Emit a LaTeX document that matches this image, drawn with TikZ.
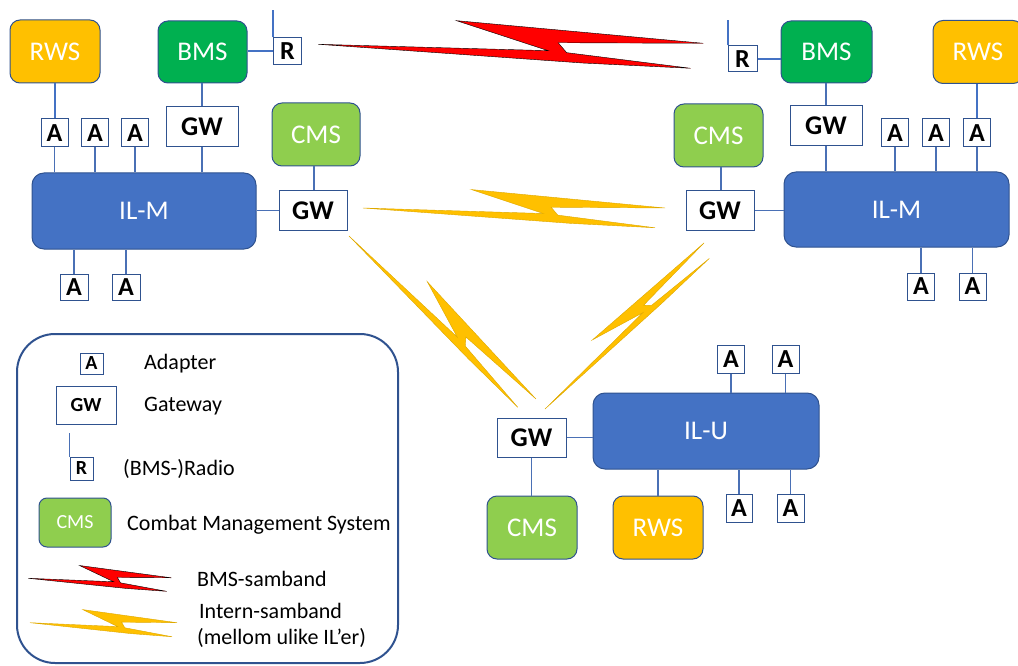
\documentclass[tikz,border=0pt]{standalone}
\usepackage{fontspec}
\setmainfont{Carlito}
\definecolor{bdr}{HTML}{2F528F}
\definecolor{lc}{HTML}{4A70B5}
\definecolor{rwsc}{HTML}{FFC000}
\definecolor{bmsc}{HTML}{00B050}
\definecolor{cmsc}{HTML}{8FCE4E}
\definecolor{ilc}{HTML}{4472C4}
\definecolor{boltred}{HTML}{FF0000}
\definecolor{boltor}{HTML}{FFC000}
\definecolor{boltoredge}{HTML}{DDA800}
\tikzset{
  sysbox/.style={draw=bdr, line width=1pt, rounded corners=10pt, text=white, inner sep=0pt,
    font=\fontsize{27}{27}\selectfont},
  rwsbox/.style={sysbox, fill=rwsc, minimum width=90pt, minimum height=63pt},
  bmsbox/.style={sysbox, fill=bmsc, minimum width=89pt, minimum height=62pt},
  cmsbox/.style={sysbox, fill=cmsc, minimum width=89pt, minimum height=63pt},
  ilbox/.style={sysbox, fill=ilc, rounded corners=12pt},
  wbox/.style={draw=bdr, line width=1pt, fill=white, text=black, inner sep=0pt,
    font=\fontsize{26}{26}\selectfont\bfseries},
  abox/.style={wbox, minimum width=27pt, minimum height=28pt},
  rbox/.style={wbox, minimum width=28pt, minimum height=27pt},
  gwbox/.style={wbox, minimum width=72pt, minimum height=40pt, font=\fontsize{27}{27}\selectfont\bfseries},
  conn/.style={draw=lc, line width=1.4pt},
  connb/.style={draw=ilc, line width=2pt},
  legtext/.style={anchor=base west, inner sep=0pt, font=\fontsize{22}{22}\selectfont},
  redbolt/.style={fill=boltred},
  orbolt/.style={fill=boltor, draw=boltoredge, line width=0.4pt},
}
\newcommand{\drawbolt}[5]{%
  \filldraw[#5, shift={(#1)}, rotate=#2, xscale=#3, yscale=-#4]
    (0,0) -- (0.597,-0.29) -- (0.359,0.97) -- (1,0) -- (0.623,0.04)
    -- (0.645,-0.375) -- (0.967,-1.04) -- (0.688,-0.81) -- cycle;}
\begin{document}
\begin{tikzpicture}[x=1pt, y=-1pt]
\useasboundingbox (0,0) rectangle (1018,666);

% ---------- lightning bolts ----------
\drawbolt{318.3,44.3}{0.15}{385}{24}{redbolt}
\drawbolt{363,208}{0}{302}{19}{orbolt}
\drawbolt{349,236}{-41.08}{248}{17.5}{orbolt}
\drawbolt{545,409}{46.24}{230}{14}{orbolt}

% ---------- top-left vehicle ----------
\node[rwsbox] (rws1) at (55,51.5) {RWS};
\node[bmsbox] (bms1) at (202.5,52) {BMS};
\node[rbox] (r1) at (287.5,51.5) {R};
\node[abox] (a1a) at (54.5,133) {A};
\node[abox] (a1b) at (95,133) {A};
\node[abox] (a1c) at (135,133) {A};
\node[gwbox] (gw1a) at (202,127) {GW};
\node[cmsbox, minimum width=88pt] (cms1) at (316,134.5) {CMS};
\node[gwbox, minimum width=68pt, minimum height=39pt] (gw1b) at (313,210.5) {GW};
\node[ilbox, minimum width=224pt, minimum height=76pt] (ilm1) at (144,211) {IL-M};
\node[abox, minimum height=26pt, minimum width=28pt] (a1d) at (74,287) {A};
\node[abox, minimum height=26pt, minimum width=28pt] (a1e) at (126,287) {A};
\coordinate (ant1) at (273.5,10);

\draw[connb] (a1a.north) -- (a1a.north |- rws1.south);
\draw[conn] (a1a.south) -- (a1a.south |- ilm1.north);
\draw[conn] (a1b.south) -- (a1b.south |- ilm1.north);
\draw[conn] (a1c.south) -- (a1c.south |- ilm1.north);
\draw[conn] (gw1a.north) -- (gw1a.north |- bms1.south);
\draw[conn] (gw1a.south) -- (gw1a.south |- ilm1.north);
\draw[connb] (r1.west) -- (r1.west -| bms1.east);
\draw[connb] (r1.north west) -- (r1.north west |- ant1);
\draw[conn] ([xshift=1pt]gw1b.north) -- ([xshift=1pt]gw1b.north |- cms1.south);
\draw[conn] (gw1b.west) -- (gw1b.west -| ilm1.east);
\draw[conn] (a1d.north) -- (a1d.north |- ilm1.south);
\draw[conn] (a1e.north) -- (a1e.north |- ilm1.south);

% ---------- top-right vehicle ----------
\node[rbox, minimum width=29pt, minimum height=26pt] (r2) at (742.5,59) {R};
\node[bmsbox, minimum width=91pt] (bms2) at (826.5,52) {BMS};
\node[rwsbox] (rws2) at (978,52) {RWS};
\node[cmsbox] (cms2) at (718.5,135.5) {CMS};
\node[gwbox, minimum width=68pt, minimum height=39pt] (gw2b) at (720,210.5) {GW};
\node[gwbox] (gw2a) at (826,126) {GW};
\node[abox] (a2a) at (895,133) {A};
\node[abox] (a2b) at (936,133) {A};
\node[abox] (a2c) at (977,133) {A};
\node[ilbox, minimum width=225pt, minimum height=75pt] (ilm2) at (896.5,209.5) {IL-M};
\node[abox, minimum height=27pt] (a2d) at (921,286.5) {A};
\node[abox, minimum height=27pt] (a2e) at (972.5,286.5) {A};
\coordinate (ant2) at (728,20);

\draw[connb] (r2.east) -- (r2.east -| bms2.west);
\draw[connb] (r2.north west) -- (r2.north west |- ant2);
\draw[conn] (gw2a.north) -- (gw2a.north |- bms2.south);
\draw[conn] (gw2a.south) -- (gw2a.south |- ilm2.north);
\draw[conn] ([xshift=1pt]gw2b.north) -- ([xshift=1pt]gw2b.north |- cms2.south);
\draw[conn] (gw2b.east) -- (gw2b.east -| ilm2.west);
\draw[connb] (a2c.north) -- (a2c.north |- rws2.south);
\draw[conn] (a2a.south) -- (a2a.south |- ilm2.north);
\draw[conn] (a2b.south) -- (a2b.south |- ilm2.north);
\draw[conn] (a2c.south) -- (a2c.south |- ilm2.north);
\draw[conn] (a2d.north) -- (a2d.north |- ilm2.south);
\draw[conn] (a2e.north) -- (a2e.north |- ilm2.south);

% ---------- bottom vehicle ----------
\node[abox] (a3a) at (731,359.5) {A};
\node[abox] (a3b) at (785.5,359.5) {A};
\node[ilbox, minimum width=226pt, minimum height=76pt] (ilu) at (706,431) {IL-U};
\node[gwbox, minimum width=69pt, minimum height=39pt] (gw3) at (531.5,437.5) {GW};
\node[cmsbox, minimum width=90pt] (cms3) at (532,527.5) {CMS};
\node[rwsbox] (rws3) at (658,527.5) {RWS};
\node[abox, minimum width=26pt] (a3c) at (739,508) {A};
\node[abox] (a3d) at (790.5,508) {A};

\draw[conn] (gw3.east) -- (gw3.east -| ilu.west);
\draw[conn] (gw3.south) -- (gw3.south |- cms3.north);
\draw[conn] (rws3.north) -- (rws3.north |- ilu.south);
\draw[conn] (a3a.south) -- (a3a.south |- ilu.north);
\draw[conn] (a3b.south) -- (a3b.south |- ilu.north);
\draw[conn] (a3c.north) -- (a3c.north |- ilu.south);
\draw[conn] (a3d.north) -- (a3d.north |- ilu.south);

% ---------- legend ----------
\node[draw=bdr, line width=2pt, rounded corners=38pt, minimum width=381pt,
      minimum height=329pt, inner sep=0pt] (legend) at (207.5,498.5) {};
\node[abox, minimum width=23pt, minimum height=21pt, font=\fontsize{20}{20}\selectfont\bfseries] (la) at (91.5,363.5) {A};
\node[gwbox, minimum width=60pt, minimum height=38pt, font=\fontsize{20}{20}\selectfont\bfseries] (lgw) at (86,405) {GW};
\node[rbox, minimum width=23pt, minimum height=23pt, font=\fontsize{20}{20}\selectfont\bfseries] (lr) at (81.5,468.5) {R};
\coordinate (lant) at (70,433);
\draw[conn, line width=1pt] (lr.north west) -- (lr.north west |- lant);
\node[cmsbox, minimum width=72pt, minimum height=49pt, rounded corners=8pt,
      font=\fontsize{20}{20}\selectfont] (lcms) at (75,522.5) {CMS};
\drawbolt{28.3,578.3}{0.2}{143}{13}{redbolt}
\drawbolt{30,622.7}{0}{147}{13.5}{orbolt}

\node[legtext] (tA) at (144,369.3) {Adapter};
\node[legtext] (tGW) at (144,411.7) {Gateway};
\node[legtext] (tR) at (123,475) {(BMS-)Radio};
\node[legtext] (tCMS) at (127,530.5) {Combat Management System};
\node[legtext] (tBMS) at (197,586) {BMS-samband};
\node[legtext] (tInt) at (199,618.5) {Intern-samband};
\node[legtext] (tMel) at (197,644.5) {(mellom ulike IL’er)};
\end{tikzpicture}
\end{document}
